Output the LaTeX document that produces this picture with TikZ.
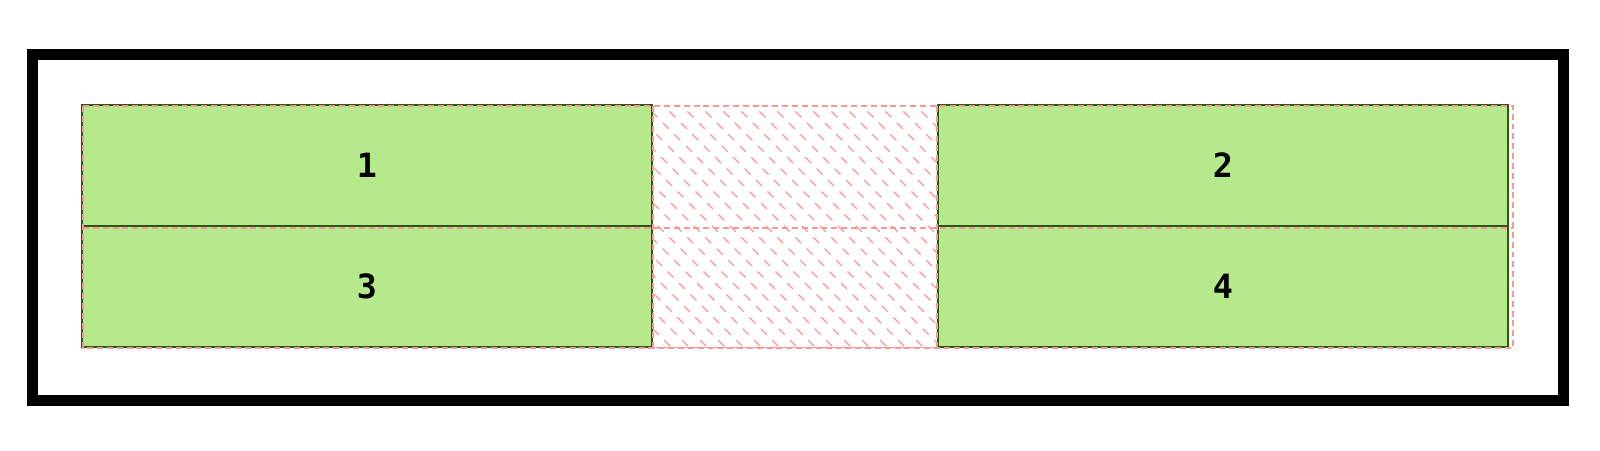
\documentclass[tikz,border=0pt]{standalone}
\usepackage{fontspec}
\setmonofont{DejaVu Sans Mono}
\usetikzlibrary{positioning}
\definecolor{cellgreen}{RGB}{182,232,140}
\definecolor{celledge}{RGB}{40,90,20}
\definecolor{gridred}{RGB}{250,150,150}

\begin{document}
\begin{tikzpicture}[x=0.01cm, y=-0.01cm,
  cell/.style={rectangle, draw=celledge, fill=cellgreen, line width=0.4pt,
               minimum width=5.7cm, minimum height=1.21cm, inner sep=0pt,
               font=\ttfamily\bfseries\fontsize{9.5}{10}\selectfont},
  frame/.style={draw=black, line width=3.1pt},
  gridline/.style={draw=gridred, line width=0.3pt, dash pattern=on 1.7pt off 1.1pt},
  hatch/.style={draw=gridred, line width=0.35pt, dash pattern=on 2.4pt off 2.2pt}
]
\useasboundingbox (0,0) rectangle (1600,450);

% outer container
\draw[frame] (32.5,54.5) rectangle (1563.5,400.5);

% grid cells
\node[cell] (c1) at (367,165.5) {1};
\node[cell] (c2) at (1223,165.5) {2};
\node[cell] (c3) at (367,286.5) {3};
\node[cell] (c4) at (1223,286.5) {4};

% column gap (hatched)
\coordinate (gaptl) at (653,106);
\coordinate (gapbr) at (937,347);
\begin{scope}
  \clip (gaptl) rectangle (gapbr);
  \foreach \k in {-260,-242,...,940}
    \draw[hatch] (\k,100) -- ++(260,260);
\end{scope}

% grid track lines
\coordinate (gtl) at (83,106);
\coordinate (gbr) at (1513,348);
\draw[gridline] (gtl) rectangle (gbr);
\draw[gridline] (83,228) -- (1513,228);
\draw[gridline] (653,106) -- (653,348);
\draw[gridline] (937,106) -- (937,348);
\draw[gridred, line width=0.4pt] (c3.south east) -- (c4.south west);
\end{tikzpicture}
\end{document}
